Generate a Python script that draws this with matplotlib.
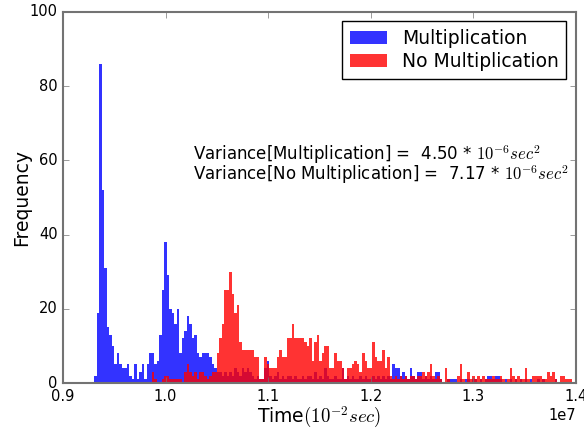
import numpy as np
import matplotlib
matplotlib.use("Agg")
import matplotlib.pyplot as plt

# bins (x values are around 1e7, shown with the 1e7 offset)
bin_start = 0.9302e7
bin_width = 0.002442e7

# counts per bin
mult_counts = [
    2, 19, 86, 52, 31, 15, 13, 10, 5, 8,
    5, 4, 4, 5, 2, 1, 5, 1, 3, 5,
    1, 5, 8, 8, 5, 6, 13, 25, 38, 29,
    20, 19, 16, 20, 8, 12, 14, 18, 16, 12,
    13, 8, 7, 8, 8, 8, 7, 5, 4, 3,
    3, 2, 3, 2, 3, 2, 4, 3, 2, 4,
    3, 4, 3, 2, 1, 2, 1, 1, 4, 6,
    2, 1, 2, 3, 1, 2, 1, 2, 2, 1,
    2, 1, 1, 2, 1, 2, 2, 1, 3, 1,
    2, 1, 4, 2, 1, 1, 2, 1, 1, 4,
    1, 2, 1, 2, 1, 1, 2, 1, 2, 1,
    1, 2, 1, 2, 1, 2, 1, 2, 1, 5,
    4, 4, 2, 3, 2, 1, 4, 2, 1, 3,
    3, 1, 2, 1, 2, 1, 3, 3, 1, 0,
    0, 1, 1, 1, 1, 0, 1, 0, 1, 1,
    0, 1, 1, 0, 1, 0, 1, 2, 2, 1,
    2, 2, 1, 0, 1, 0, 1, 0, 1, 0,
    1, 0, 1, 0, 1, 0, 0, 1, 0, 1,
    0, 0, 0, 0, 1, 0, 0, 0, 0, 0, 0,
]

nomult_counts = [
    0, 0, 0, 0, 0, 0, 0, 0, 0, 0,
    0, 0, 0, 0, 0, 0, 0, 0, 0, 0,
    0, 0, 0, 3, 1, 0, 0, 1, 2, 2,
    1, 1, 1, 1, 1, 0, 3, 5, 3, 2,
    3, 1, 3, 3, 2, 1, 2, 3, 3, 8,
    12, 16, 25, 25, 30, 24, 19, 21, 11, 9,
    9, 9, 9, 9, 7, 7, 1, 1, 7, 5,
    4, 4, 4, 7, 9, 7, 7, 12, 12, 16,
    12, 12, 12, 12, 11, 10, 12, 6, 11, 13,
    6, 8, 10, 10, 4, 4, 8, 6, 6, 4,
    1, 4, 4, 5, 6, 5, 3, 8, 6, 4,
    4, 11, 7, 6, 6, 9, 4, 7, 2, 1,
    2, 1, 2, 1, 2, 1, 2, 2, 1, 2,
    2, 3, 2, 3, 5, 2, 1, 2, 1, 0,
    4, 1, 0, 0, 0, 2, 5, 1, 0, 3,
    1, 2, 1, 2, 1, 2, 1, 1, 1, 2,
    1, 1, 2, 1, 0, 1, 4, 2, 1, 2,
    1, 1, 4, 1, 0, 2, 2, 2, 2, 1,
    1, 3, 2, 3, 1, 0, 2, 2, 1, 1, 1,
]

labels = ["Multiplication", "No Multiplication"]
variances = [4.50, 7.17]

n_bins = len(mult_counts)
edges = bin_start + bin_width * np.arange(n_bins + 1)
centers = edges[:-1] + bin_width / 2

plt.style.use('classic')
fig = plt.figure(figsize=(5.84, 4.34), dpi=100, facecolor='white')
ax = fig.add_axes([0.108, 0.1175, 0.878, 0.855])

ax.hist(centers, bins=edges, weights=mult_counts, histtype='stepfilled',
        color='b', alpha=0.8, edgecolor='none', label=labels[0])
ax.hist(centers, bins=edges, weights=nomult_counts, histtype='stepfilled',
        color='r', alpha=0.8, edgecolor='none', label=labels[1])

ax.set_xlim(0.9e7, 1.4e7)
ax.set_ylim(0, 100)
for sp in ax.spines.values():
    sp.set_edgecolor('0.45')
    sp.set_linewidth(1.5)
ax.tick_params(labelsize=10.5, color='0.45')
ax.xaxis.get_offset_text().set_fontsize(10.5)
ax.set_xlabel(r"Time$(10^{-2}sec)$", fontsize=13.5, labelpad=1)
ax.set_ylabel("Frequency", fontsize=13.5)
ax.yaxis.set_label_coords(-0.062, 0.5)

var_text = "\n".join("Variance[%s] =  %.2f * $10^{-6}sec^2$" % (lab, v)
                     for lab, v in zip(labels, variances))
ax.text(1.0265e7, 58.8, var_text, fontsize=12, va='center', linespacing=0.8)

ax.legend(loc='upper right', fontsize=13.5, labelspacing=0.25)

fig.savefig("out.png", dpi=100, facecolor='white')
